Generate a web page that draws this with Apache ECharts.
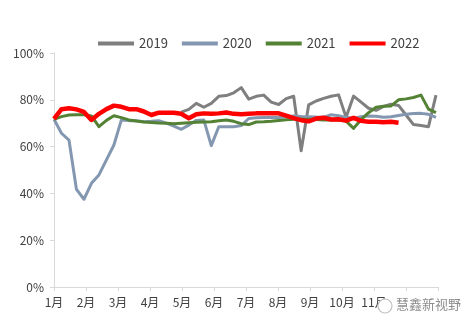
<!DOCTYPE html>
<html>
<head>
<meta charset="utf-8">
<script src="https://cdn.jsdelivr.net/npm/echarts@6/dist/echarts.min.js"></script>
<style>
html,body{margin:0;padding:0;background:#fff;}
#c{width:464px;height:324px;}
</style>
</head>
<body>
<div id="c"></div>
<script>
// Weekly capacity utilization (%), week index 0..51
const seriesNames = ['2019', '2020', '2021', '2022'];
const monthLabels = ['1月','2月','3月','4月','5月','6月','7月','8月','9月','10月','11月','12月'];
const yTicks = [0, 20, 40, 60, 80, 100];

const y2019 = [null,null,null,null,null,null,null,null,null,null,null,null,null,null,null,null,null,
  74.7,75.9,78.5,76.8,78.5,81.5,81.8,83,85.2,80.3,81.5,82,79,78,80.5,81.5,58.2,77.8,79.5,80.6,81.5,82.1,72.5,81.6,79,76.4,75.5,77.2,78.1,77.6,73.5,69.4,69,68.5,82];
const y2020 = [71.7,65.7,62.8,41.7,37.5,44.3,47.9,54.3,60.7,71.4,71.1,71,70.6,70.8,71.1,70,68.8,67.4,69.2,71.2,71.4,60.4,68.5,68.5,68.5,69,72,72.3,72.4,72.4,72.4,72.8,73.1,72.9,72.8,72.6,72.5,73.6,73.2,72.5,72.1,72.8,73.1,73,72.5,72.8,73.3,73.8,74.1,74.2,73.8,72.5];
const y2021 = [71.7,72.8,73.5,73.6,73.6,73.1,68.5,71.2,73.2,72.4,71.4,70.9,70.5,70.3,70.1,70,69.8,70,70.2,70.4,70.5,70.6,71,71.4,70.8,69.8,69.4,70.5,70.6,70.8,71.2,71.5,71.7,71.7,71.7,71.6,71.4,71.4,71.4,70.9,67.8,71.5,74.5,76.8,77.2,77.4,80,80.4,81,82,76,74.5];
const y2022 = [71.8,76,76.4,75.9,74.8,71.4,74,76,77.5,77,76,76,75,73.5,74.5,74.5,74.5,74,72.1,73.8,74.2,74,74.2,74.6,74,73.8,74,74.2,74.2,74.2,74.2,73.2,72.2,71.3,70.8,72,72.3,71.6,71.7,71.1,72.3,71,70.6,70.6,70.4,70.6,70.2];

const colors = ['#7F7F7F', '#8497B0', '#548235', '#FF0000'];
const widths = [3, 3, 3, 4.5];
const allY = [y2019, y2020, y2021, y2022];

const xMax = 51.27;
const xInt = xMax / 12;

const chart = echarts.init(document.getElementById('c'), null, {renderer: 'canvas'});
const font = '"Noto Sans CJK SC", "Noto Sans", sans-serif';

chart.setOption({
  animation: false,
  backgroundColor: '#fff',
  textStyle: {fontFamily: font},
  grid: {left: 54, right: 26, top: 53, bottom: 37, containLabel: false},
  legend: {
    left: 93, top: 32,
    icon: 'rect', itemWidth: 36, itemHeight: 4, itemGap: 14,
    textStyle: {fontSize: 13, color: '#404040', fontFamily: font},
    data: seriesNames
  },
  xAxis: {
    type: 'value', min: 0, max: xMax, interval: xInt,
    axisLine: {lineStyle: {color: '#D9D9D9', width: 1}},
    axisTick: {show: true, length: 4, lineStyle: {color: '#D9D9D9'}},
    splitLine: {show: false},
    axisLabel: {
      fontSize: 12, color: '#404040', margin: 9,
      formatter: function (v) {
        const m = Math.round(v / xInt);
        return m < 11 ? monthLabels[m] : '';
      }
    }
  },
  yAxis: {
    type: 'value', min: yTicks[0], max: yTicks[yTicks.length - 1], interval: 20,
    axisLine: {show: true, lineStyle: {color: '#D9D9D9', width: 1}},
    axisTick: {show: true, length: 4, lineStyle: {color: '#D9D9D9'}},
    splitLine: {show: false},
    axisLabel: {fontSize: 12, color: '#404040', margin: 10, formatter: v => v + '%'}
  },
  graphic: [
    {type: 'circle', z: 100, shape: {cx: 385, cy: 306, r: 7}, style: {fill: '#fff', stroke: '#C0C0C0', lineWidth: 1.2}},
    {type: 'text', z: 100, left: 396, top: 298, style: {text: '慧鑫新视野', fill: '#8C8C8C', font: '13px ' + font}}
  ],
  series: allY.map((arr, k) => ({
    name: seriesNames[k],
    type: 'line',
    showSymbol: false,
    symbol: 'none',
    connectNulls: false,
    color: colors[k],
    lineStyle: {color: colors[k], width: widths[k], join: 'round'},
    data: arr.map((v, i) => [i, v]),
    z: 2 + k
  }))
});
</script>
</body>
</html>
